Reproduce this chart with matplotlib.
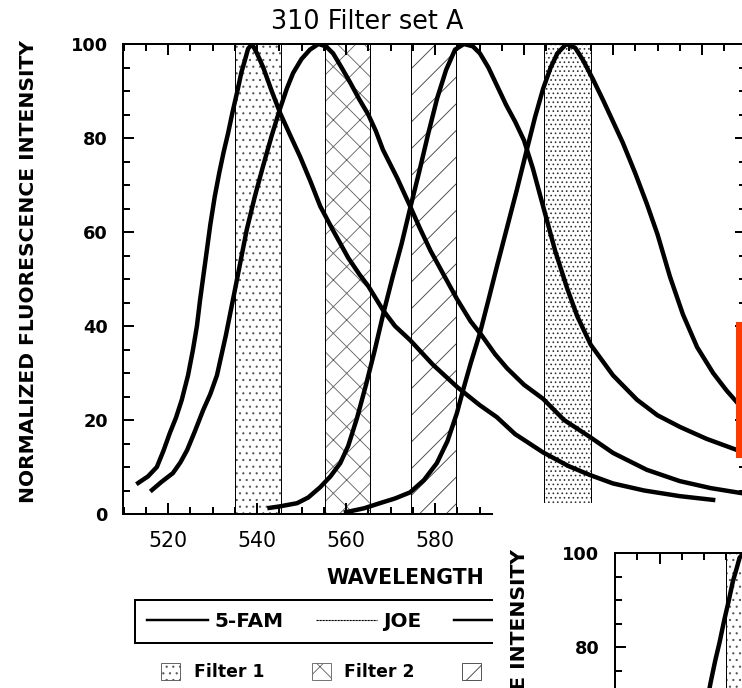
import matplotlib
matplotlib.use("Agg")
import matplotlib.pyplot as plt
from matplotlib.lines import Line2D
from matplotlib.patches import Patch, Rectangle
from matplotlib.ticker import MultipleLocator

# emission spectra, normalized to 100 at the peak
FAM_NM = [513.3, 515.5, 517.5, 519.0, 520.4, 521.8, 523.1, 524.5, 525.6, 526.5,
          527.2, 528.5, 529.5, 530.5, 531.5, 532.5, 533.5, 534.5, 535.5, 536.5,
          537.3, 538.0, 538.9, 540.0, 541.4, 543.3, 545.2, 547.5, 549.7, 552.0,
          554.2, 557.0, 560.5, 563.0, 565.0, 568.3, 571.0, 574.4, 579.5, 585.0,
          590.0, 593.9, 598.0, 604.3, 610.0, 614.8, 620.0, 627.0, 635.0, 642.5]
FAM_I = [6.6, 8.0, 10.0, 13.5, 17.2, 20.5, 24.3, 29.5, 34.9, 40.0,
         45.5, 54.5, 61.5, 67.5, 72.5, 77.0, 81.0, 85.5, 89.6, 94.0,
         96.6, 99.0, 100.0, 98.0, 95.0, 90.0, 85.3, 80.5, 76.0, 70.8,
         65.5, 60.5, 54.5, 51.0, 48.5, 43.4, 40.0, 37.0, 31.8, 27.0,
         23.2, 20.6, 17.0, 13.1, 10.2, 8.3, 6.5, 5.0, 3.8, 3.0]

JOE_NM = [516.4, 518.5, 521.1, 522.8, 524.3, 526.0, 527.9, 529.5, 531.0, 533.0,
          535.0, 537.7, 539.5, 541.3, 543.3, 545.2, 546.7, 548.1, 550.0, 551.9,
          553.8, 555.5, 557.1, 559.0, 561.0, 563.0, 565.0, 566.7, 568.3, 571.5,
          574.4, 576.5, 579.0, 584.9, 588.0, 590.5, 593.5, 596.2, 600.0, 604.3,
          609.0, 614.8, 620.0, 627.6, 635.0, 642.0, 648.5, 650.0]
JOE_I = [5.1, 6.8, 8.7, 11.0, 13.6, 17.5, 22.1, 25.5, 29.5, 38.0,
         47.5, 60.5, 67.5, 73.8, 80.5, 86.3, 90.5, 93.8, 96.8, 98.8,
         100.0, 99.5, 98.0, 95.0, 91.7, 88.2, 85.0, 81.5, 77.5, 71.5,
         65.5, 61.0, 56.0, 45.8, 41.0, 38.0, 34.0, 31.0, 27.5, 24.5,
         20.0, 16.4, 13.0, 9.4, 7.0, 5.5, 4.5, 4.3]

TAMRA_NM = [542.8, 545.0, 549.0, 551.5, 554.2, 556.5, 558.7, 560.5, 562.5, 564.5,
            566.5, 568.4, 570.5, 572.5, 574.4, 576.5, 578.5, 580.5, 582.5, 584.5,
            586.5, 588.5, 590.1, 592.0, 594.0, 596.0, 598.0, 600.0, 602.0, 604.0,
            607.0, 609.7, 612.0, 615.0, 620.0, 625.4, 630.0, 635.1, 641.0, 647.9,
            650.0]
TAMRA_I = [1.3, 1.6, 2.3, 3.5, 5.7, 8.0, 10.8, 14.5, 20.5, 27.5,
           35.0, 42.7, 50.5, 57.5, 65.0, 73.0, 81.0, 88.5, 94.5, 98.8,
           100.0, 99.5, 98.0, 95.0, 91.0, 87.0, 83.5, 79.5, 73.5, 66.5,
           56.0, 48.0, 42.0, 36.0, 29.5, 24.3, 21.0, 18.5, 16.0, 13.6,
           13.0]

ROX_NM = [560.0, 564.0, 567.6, 571.0, 574.4, 577.5, 580.4, 582.8, 584.9, 586.5,
          588.0, 590.1, 592.0, 594.0, 596.2, 598.4, 600.5, 602.5, 604.3, 606.0,
          607.5, 609.5, 611.5, 613.3, 615.5, 617.8, 620.0, 622.2, 625.0, 627.6,
          630.0, 632.8, 635.7, 638.9, 642.5, 645.5, 648.0, 650.0]
ROX_I = [0.4, 1.2, 2.3, 3.3, 4.6, 7.2, 10.8, 15.5, 21.4, 27.0,
         32.0, 38.5, 45.5, 53.0, 61.0, 69.0, 77.0, 84.5, 90.5, 95.0,
         98.0, 100.0, 99.2, 96.5, 92.5, 88.0, 83.5, 79.0, 72.5, 66.0,
         59.5, 50.5, 42.5, 35.5, 30.0, 26.3, 23.6, 21.8]

DYE_LABELS = ["5-FAM", "JOE", "TAMRA", "ROX"]
DYES = [(FAM_NM, FAM_I), (JOE_NM, JOE_I), (TAMRA_NM, TAMRA_I), (ROX_NM, ROX_I)]

# filter pass bands (nm)
FILTER_LABELS = ["Filter 1", "Filter 2", "Filter 3", "Filter 4"]
FILTER_LO = [535.0, 555.2, 574.5, 604.6]
FILTER_HI = [545.5, 565.5, 584.8, 615.1]
FILTER_HATCH = ["..", "x", "/", "..."]
FILTER_HATCH_COLOR = ["#555555", "#666666", "#444444", "#333333"]

X_MAJOR = [520, 540, 560, 580, 600, 620, 640]
Y_MAJOR = [0, 20, 40, 60, 80, 100]

DPI = 80
plt.rcParams["hatch.linewidth"] = 0.8


def draw_panel(ax, title):
    for lo, hi, h, hc in zip(FILTER_LO, FILTER_HI, FILTER_HATCH, FILTER_HATCH_COLOR):
        ax.axvspan(lo, hi, facecolor="white", edgecolor=hc, hatch=h, lw=0, zorder=1)
        ax.axvline(lo, color="black", lw=0.9, zorder=2)
        ax.axvline(hi, color="black", lw=0.9, zorder=2)
    for nm, val in DYES:
        ax.plot(nm, val, color="black", lw=4.0, solid_joinstyle="round", zorder=3)

    ax.set_xlim(510, 650)
    ax.set_ylim(0, 100)
    ax.set_xticks(X_MAJOR)
    ax.set_yticks(Y_MAJOR)
    ax.xaxis.set_minor_locator(MultipleLocator(5))
    ax.yaxis.set_minor_locator(MultipleLocator(5))
    ax.tick_params(which="both", direction="in", top=True, right=True, width=1.8)
    ax.tick_params(which="major", length=10)
    ax.tick_params(which="minor", length=6)
    ax.tick_params(axis="x", labelsize=18.5, pad=15)
    ax.tick_params(axis="y", labelsize=16, pad=14)
    for lab in ax.get_yticklabels():
        lab.set_fontweight("bold")
    for sp in ax.spines.values():
        sp.set_linewidth(1.8)

    ax.set_xlabel("WAVELENGTH", fontsize=18.5, fontweight="bold", va="center")
    ax.xaxis.set_label_coords(0.452, -0.136)
    ax.set_ylabel("NORMALIZED FLUORESCENCE INTENSITY", fontsize=18.2,
                  fontweight="bold", va="center")
    ax.yaxis.set_label_coords(-0.153, 0.515)
    ax.text(0.391, 1.047, title, transform=ax.transAxes, ha="center",
            va="center", fontsize=23)


fig = plt.figure(figsize=(742 / DPI, 688 / DPI), dpi=DPI)
ax = fig.add_axes([123.5 / 742, 1 - 514 / 688, 623 / 742, 470 / 688])
draw_panel(ax, "310 Filter set A")

dye_handles = [
    Line2D([], [], color="black", lw=2.2),
    Line2D([], [], color="black", lw=1.0, ls=(0, (2, 0.7))),
    Line2D([], [], color="black", lw=2.2),
    Line2D([], [], color="black", lw=2.2),
]
leg = ax.legend(dye_handles, DYE_LABELS, loc="upper left",
                bbox_to_anchor=(135 / 742, 1 - 600 / 688),
                bbox_transform=fig.transFigure, ncol=4, fancybox=False,
                edgecolor="black", framealpha=1, borderaxespad=0, borderpad=0.6,
                handlelength=3.05, handletextpad=0.3, columnspacing=1.65,
                prop={"weight": "bold", "size": 18})
leg.get_frame().set_linewidth(1.8)
ax.add_artist(leg)

filter_handles = [Patch(facecolor="white", edgecolor=hc, hatch=h, lw=0.8)
                  for h, hc in zip(FILTER_HATCH, FILTER_HATCH_COLOR)]
ax.legend(filter_handles, FILTER_LABELS, loc="center left",
          bbox_to_anchor=(161 / 742, 1 - 672 / 688),
          bbox_transform=fig.transFigure, ncol=4, frameon=False,
          borderaxespad=0, borderpad=0, handlelength=1.1, handleheight=1.2,
          handletextpad=0.8, columnspacing=2.75,
          prop={"weight": "bold", "size": 15.5})

# second sheet lying over the lower right corner
cover = Rectangle((493 / 742, 0), 1, 1 - 503 / 688, transform=fig.transFigure,
                  facecolor="white", edgecolor="none", zorder=2)
fig.add_artist(cover)
ax2 = fig.add_axes([615 / 742, 1 - 1023 / 688, 623 / 742, 470 / 688])
ax2.set_zorder(3)
draw_panel(ax2, "310 Filter set A")

marker = Rectangle((736 / 742, 1 - 458 / 688), 7 / 742, 136 / 688,
                   transform=fig.transFigure, facecolor="#ff3a00",
                   edgecolor="none", zorder=4)
fig.add_artist(marker)

fig.savefig("out.png", dpi=DPI)
